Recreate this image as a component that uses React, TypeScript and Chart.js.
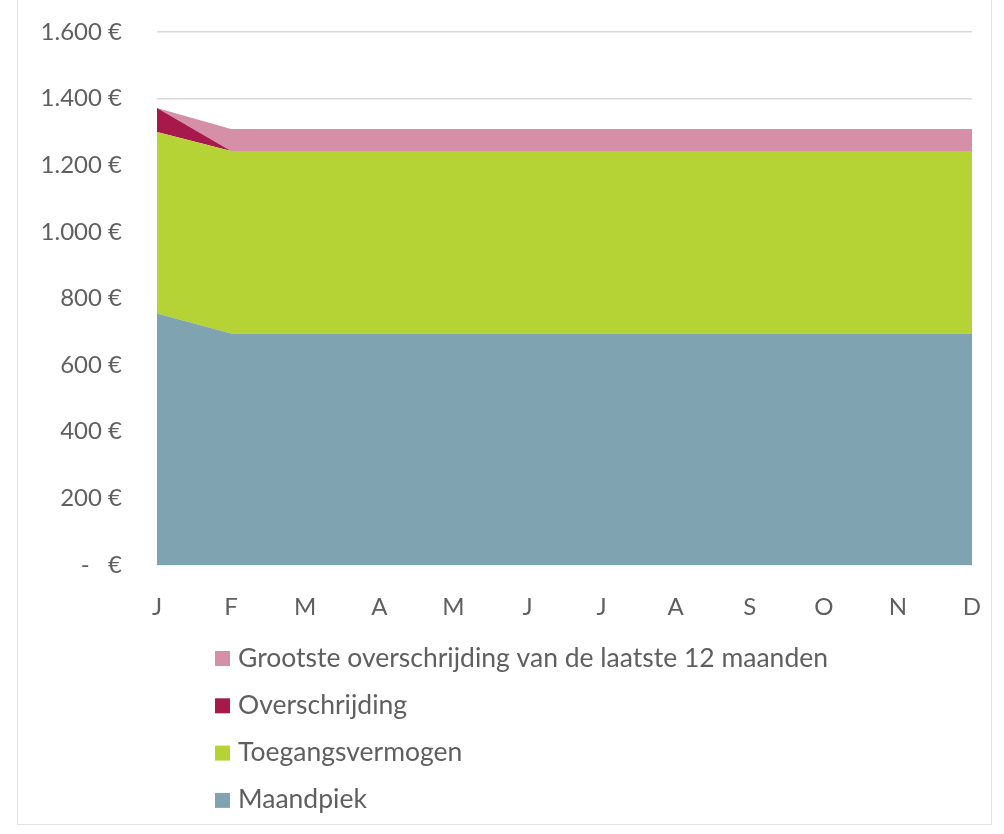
import React, { useEffect, useRef } from "react";
import { Chart, registerables } from "chart.js";

Chart.register(...registerables);

const months = ["J", "F", "M", "A", "M", "J", "J", "A", "S", "O", "N", "D"];
const maandpiek = [755, 695, 695, 695, 695, 695, 695, 695, 695, 695, 695, 695];
const toegangsvermogen = [545, 548, 548, 548, 548, 548, 548, 548, 548, 548, 548, 548];
const overschrijding = [72, 0, 0, 0, 0, 0, 0, 0, 0, 0, 0, 0];
const grootsteOverschrijding = [0, 66, 66, 66, 66, 66, 66, 66, 66, 66, 66, 66];
const yTicks = [0, 200, 400, 600, 800, 1000, 1200, 1400, 1600];

const FONT = "Lato";
const FONT_SIZE = 24;
const LEGEND_FONT_SIZE = 26.5;
const TEXT = "#5f5f5f";

const fmt = (v: number) => {
  if (v === 0) return "-   €";
  return v.toLocaleString("de-DE") + " €";
};

const legendPlugin = {
  id: "vlegend",
  afterDraw(chart: any) {
    const ctx = chart.ctx;
    const ds = chart.data.datasets;
    const x0 = 215;
    const y0 = chart.chartArea.bottom + 93;
    const step = 47.3;
    ctx.save();
    ctx.font = `${LEGEND_FONT_SIZE}px ${FONT}`;
    ctx.textBaseline = "middle";
    ctx.textAlign = "left";
    const order = [3, 2, 1, 0];
    order.forEach((di, i) => {
      const y = y0 + i * step;
      ctx.fillStyle = ds[di].backgroundColor;
      ctx.fillRect(x0, y - 7, 15, 15);
      ctx.fillStyle = TEXT;
      ctx.fillText(ds[di].label, x0 + 23, y);
    });
    ctx.restore();
  },
};

export default function App() {
  const ref = useRef<HTMLCanvasElement>(null);
  useEffect(() => {
    if (!ref.current) return;
    const chart = new Chart(ref.current, {
      type: "line",
      data: {
        labels: months,
        datasets: [
          {
            label: "Maandpiek",
            data: maandpiek,
            backgroundColor: "rgb(127,163,177)",
            borderWidth: 0,
            fill: "origin",
            pointRadius: 0,
          },
          {
            label: "Toegangsvermogen",
            data: toegangsvermogen,
            backgroundColor: "rgb(181,211,53)",
            borderWidth: 0,
            fill: "-1",
            pointRadius: 0,
          },
          {
            label: "Overschrijding",
            data: overschrijding,
            backgroundColor: "rgb(166,25,74)",
            borderWidth: 0,
            fill: "-1",
            pointRadius: 0,
          },
          {
            label: "Grootste overschrijding van de laatste 12 maanden",
            data: grootsteOverschrijding,
            backgroundColor: "rgb(213,143,167)",
            borderWidth: 0,
            fill: "-1",
            pointRadius: 0,
          },
        ],
      },
      options: {
        responsive: false,
        animation: false,
        layout: { padding: { left: 0, right: 32, top: 32, bottom: 209 } },
        plugins: {
          legend: { display: false },
          tooltip: { enabled: false },
          title: { display: false },
        },
        scales: {
          x: {
            offset: false,
            grid: {
              display: true,
              drawOnChartArea: false,
              drawTicks: true,
              tickLength: 28,
              color: "rgba(0,0,0,0)",
              tickColor: "rgba(0,0,0,0)",
            },
            border: { display: false },
            ticks: {
              color: TEXT,
              font: { family: FONT, size: FONT_SIZE },
              padding: 0,
              maxRotation: 0,
              autoSkip: false,
            },
            afterFit: (s: any) => {
              s.height = 60;
            },
          },
          y: {
            stacked: true,
            min: 0,
            max: 1600,
            afterBuildTicks: (s: any) => {
              s.ticks = yTicks.map((v) => ({ value: v }));
            },
            grid: {
              color: "#d9d9d9",
              lineWidth: 1.5,
              drawTicks: true,
              tickLength: 35,
              tickColor: "rgba(0,0,0,0)",
            },
            border: { display: false },
            ticks: {
              color: TEXT,
              font: { family: FONT, size: FONT_SIZE },
              padding: 0,
              callback: (v: any) => fmt(Number(v)),
            },
            afterFit: (s: any) => {
              s.width = 157;
            },
          },
        },
      },
      plugins: [legendPlugin],
    });
    return () => chart.destroy();
  }, []);

  return (
    <div style={{ position: "fixed", left: 0, top: 0, width: 1004, height: 834, background: "#fff" }}>
      <canvas ref={ref} width={1004} height={834} style={{ display: "block" }} />
      <div
        style={{
          position: "absolute",
          left: 17,
          top: -2,
          width: 973,
          height: 825,
          border: "1px solid #e3e3e3",
          pointerEvents: "none",
        }}
      />
    </div>
  );
}
